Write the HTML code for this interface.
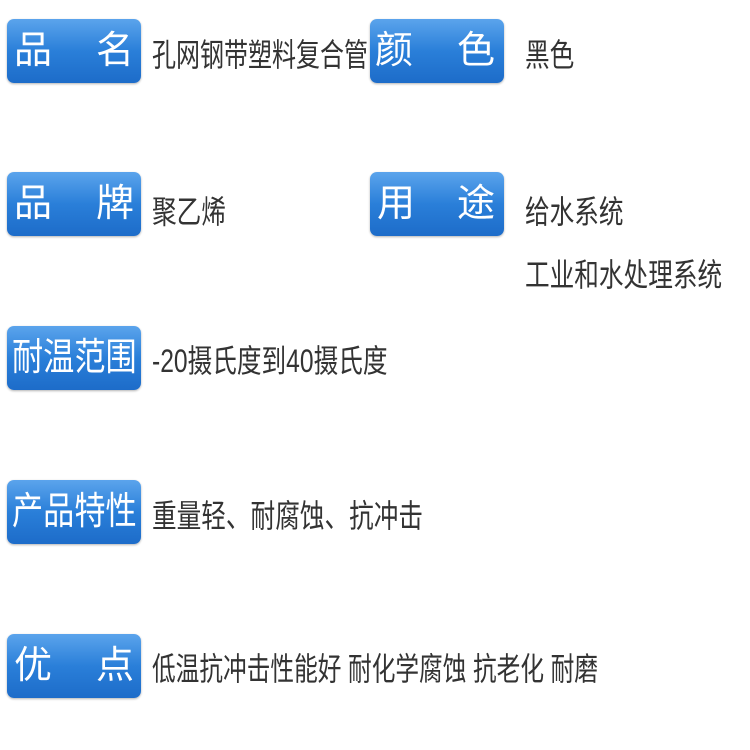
<!DOCTYPE html>
<html><head><meta charset="utf-8"><style>
body{margin:0;width:750px;height:750px;background:#fff;position:relative;overflow:hidden;font-family:"Liberation Sans","Noto Sans CJK SC",sans-serif}
.b{position:absolute;width:134px;height:64px;border-radius:7px;background:linear-gradient(#5ba4ec,#2a7fd9 50%,#1d6cc9);box-shadow:0 1px 2px rgba(0,0,0,.3);color:#fff;font-size:38px;line-height:64px}
.b span{position:absolute;top:0}
.t{position:absolute;color:#333;font-size:32px;line-height:40px;white-space:nowrap;transform-origin:left center;transform:scaleX(.77)}
</style></head><body>
<div class="b" style="left:7px;top:19px"><span style="left:7px">品</span><span style="right:7px">名</span></div>
<div class="t" style="left:152px;top:35px;transform:scaleX(.75)">孔网钢带塑料复合管</div>
<div class="b" style="left:370px;top:19px"><span style="left:5px">颜</span><span style="right:9px">色</span></div>
<div class="t" style="left:525px;top:35px">黑色</div>

<div class="b" style="left:7px;top:172px"><span style="left:7px">品</span><span style="right:7px">牌</span></div>
<div class="t" style="left:152px;top:192px">聚乙烯</div>
<div class="b" style="left:370px;top:172px"><span style="left:7px">用</span><span style="right:9px">途</span></div>
<div class="t" style="left:525px;top:192px">给水系统</div>
<div class="t" style="left:525px;top:255px">工业和水处理系统</div>

<div class="b" style="left:7px;top:326px"><span style="left:5px;transform:scaleX(.82);transform-origin:left;white-space:nowrap">耐温范围</span></div>
<div class="t" style="left:152px;top:341px">-20摄氏度到40摄氏度</div>

<div class="b" style="left:7px;top:480px"><span style="left:5px;transform:scaleX(.82);transform-origin:left;white-space:nowrap">产品特性</span></div>
<div class="t" style="left:152px;top:496px">重量轻、耐腐蚀、抗冲击</div>

<div class="b" style="left:7px;top:634px"><span style="left:7px">优</span><span style="right:7px">点</span></div>
<div class="t" style="left:152px;top:649px;transform:scaleX(.74)">低温抗冲击性能好 耐化学腐蚀 抗老化 耐磨</div>
</body></html>
